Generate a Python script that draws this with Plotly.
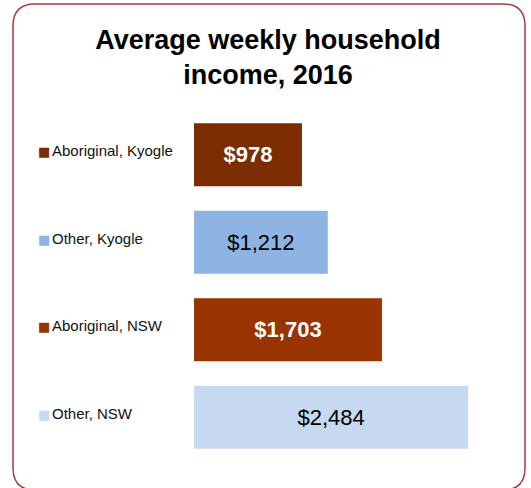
import plotly.graph_objects as go

categories = ["Aboriginal, Kyogle", "Other, Kyogle", "Aboriginal, NSW", "Other, NSW"]
values = [978, 1212, 1703, 2484]
bar_colors = ["#7B2C00", "#8DB4E2", "#993300", "#C6D9F1"]
value_labels = ["$978", "$1,212", "$1,703", "$2,484"]
label_colors = ["white", "black", "white", "black"]
label_weights = ["bold", "normal", "bold", "normal"]

W, H = 531, 488
ML, MR, MT, MB = 194, 39, 111, 27
PW, PH = W - ML - MR, H - MT - MB

def px(x):
    return (x - ML) / PW

def py(y):
    return 1 - (y - MT) / PH

texts = [f"<b>{t}</b>" if w == "bold" else t for t, w in zip(value_labels, label_weights)]

FONT = "Liberation Sans, Arial, sans-serif"

fig = go.Figure(go.Bar(
    y=categories, x=values, orientation="h",
    marker=dict(color=bar_colors, line=dict(width=0)),
    text=texts, textposition="inside", insidetextanchor="middle",
    textfont=dict(color=label_colors, size=22, family=FONT),
    hoverinfo="skip",
))

annotations = []
for cat, col in zip(categories, bar_colors):
    annotations.append(dict(
        xref="paper", yref="y", x=0, y=cat, xanchor="left", yanchor="middle",
        xshift=-158, yshift=4, showarrow=False,
        text=(f"<span style='color:{col};font-size:13px;font-family:DejaVu Sans'>■</span>"
              f"<span style='font-size:6px'> </span>{cat}"),
        font=dict(size=15, color="#111111", family=FONT),
    ))

# rounded border
L, T, R, B, r = 13, 4, 525, 490, 22
path = (f"M {px(L+r)},{py(T)} L {px(R-r)},{py(T)} "
        f"Q {px(R)},{py(T)} {px(R)},{py(T+r)} L {px(R)},{py(B-r)} "
        f"Q {px(R)},{py(B)} {px(R-r)},{py(B)} L {px(L+r)},{py(B)} "
        f"Q {px(L)},{py(B)} {px(L)},{py(B-r)} L {px(L)},{py(T+r)} "
        f"Q {px(L)},{py(T)} {px(L+r)},{py(T)} Z")

fig.update_layout(
    width=W, height=H,
    margin=dict(l=ML, r=MR, t=MT, b=MB),
    paper_bgcolor="white", plot_bgcolor="white",
    showlegend=False, bargap=0.28,
    title=dict(text="<b>Average weekly household<br>income, 2016</b>",
               x=268 / W, xanchor="center", y=1 - 49 / H, yanchor="middle",
               font=dict(size=27, color="black", family=FONT)),
    xaxis=dict(range=[0, 2700], visible=False, fixedrange=True),
    yaxis=dict(autorange="reversed", showticklabels=False, showgrid=False,
               zeroline=False, showline=False, ticks="", fixedrange=True),
    annotations=annotations,
    shapes=[dict(type="path", xref="paper", yref="paper", path=path,
                 line=dict(color="#A63A3A", width=1.5), layer="above")],
)

fig.write_html("out.html", config={"displayModeBar": False},
               post_script="document.body.style.margin='0';document.body.style.overflow='hidden';")
